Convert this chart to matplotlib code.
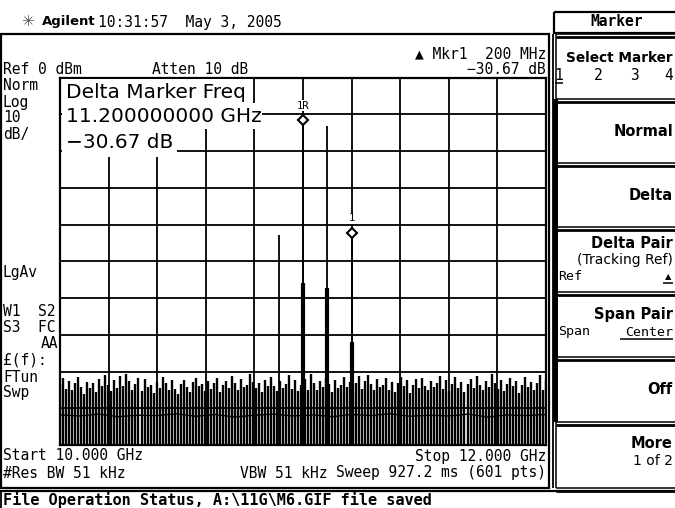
import matplotlib
matplotlib.use("Agg")
import matplotlib.pyplot as plt
from matplotlib.patches import Rectangle
import numpy as np

# analyzer settings
start_ghz = 10.0
stop_ghz = 12.0
ref_dbm = 0.0
db_per_div = 10
n_div = 10

# max-hold trace spurs (GHz, dBm)
sig_freq = [10.9, 11.0, 11.1, 11.2]
sig_peak = [-42.9, -11.7, -13.2, -42.37]
# current sweep at the same spurs
live_freq = [11.0, 11.1, 11.2]
live_peak = [-56.0, -57.3, -72.0]

# noise floor peaks across the sweep
noise_dbm = [
    -83.5, -81.9, -84.8, -82.6, -85.1, -83.0, -81.4, -84.2, -86.0, -82.8,
    -84.5, -83.2, -85.6, -82.1, -84.0, -80.9, -83.7, -85.2, -82.4, -84.6,
    -81.2, -83.9, -80.6, -82.7, -84.9, -83.3, -81.8, -85.4, -82.0, -84.1,
    -83.6, -85.8, -82.9, -84.4, -81.5, -83.1, -85.0, -82.3, -84.7, -86.2,
    -83.4, -82.2, -84.3, -85.5, -82.8, -81.7, -84.0, -83.5, -85.3, -82.6,
    -84.8, -83.0, -81.9, -85.7, -83.8, -82.5, -84.6, -81.3, -83.2, -85.1,
    -82.0, -84.2, -83.7, -80.8, -82.9, -84.5, -83.1, -85.6, -82.4, -84.0,
    -81.6, -83.9, -85.2, -82.7, -84.4, -83.3, -81.0, -84.8, -82.2, -85.4,
    -83.6, -82.1, -84.9, -80.7, -83.0, -85.0, -82.6, -84.1, -81.8, -83.4,
    -85.7, -82.3, -84.6, -83.8, -81.5, -84.2, -82.9, -85.3, -83.1, -81.2,
    -84.7, -82.5, -80.9, -83.5, -85.1, -82.0, -84.3, -83.7, -81.9, -84.9,
    -82.8, -85.5, -83.2, -81.4, -84.0, -82.4, -85.8, -83.6, -82.1, -84.5,
    -81.7, -83.9, -85.0, -82.7, -84.1, -83.0, -81.1, -84.8, -82.3, -85.2,
    -83.4, -81.6, -84.6, -82.9, -85.6, -83.3, -82.0, -84.4, -81.3, -83.8,
    -85.1, -82.6, -84.2, -80.8, -83.1, -84.7, -82.2, -85.4, -83.5, -81.8,
    -84.0, -82.5, -85.9, -83.7, -81.5, -84.3, -82.8, -85.0, -83.2, -81.0,
    -84.9, -82.4,
]
floor_dbm = [
    -91.8, -92.1, -91.6, -92.3, -91.9, -92.0, -91.5, -92.2, -91.7, -92.4,
    -91.9, -91.6, -92.1, -91.8, -92.3, -91.7, -92.0, -91.5, -92.2, -91.9,
    -92.1, -91.6, -92.4, -91.8, -92.0, -91.7,
]

mkr_ref = (11.0, -11.7)
mkr_delta = (11.2, -42.37)
delta_db = -30.67

W, H = 675, 508
MONO = ["DejaVu Sans Mono", "DejaVu Sans"]
SANS = ["DejaVu Sans"]
FS = 10.5

fig = plt.figure(figsize=(W / 100, H / 100), dpi=100)


def px_box(x0, y0, x1, y1):
    return [x0 / W, 1 - y1 / H, (x1 - x0) / W, (y1 - y0) / H]


# graticule
ax = fig.add_axes(px_box(60, 77.5, 546, 445))
ax.set_xlim(start_ghz, stop_ghz)
ax.set_ylim(ref_dbm - db_per_div * n_div, ref_dbm)
ax.set_xticks(np.linspace(start_ghz, stop_ghz, n_div + 1))
ax.set_yticks(np.arange(ref_dbm - db_per_div * n_div, ref_dbm + 1, db_per_div))
ax.grid(True, color="black", lw=1.3)
ax.tick_params(length=0, labelbottom=False, labelleft=False)
for s in ax.spines.values():
    s.set_linewidth(1.6)
ax.set_axisbelow(True)

bottom = ref_dbm - db_per_div * n_div - 2
noise_x = np.linspace(start_ghz, stop_ghz, len(noise_dbm))
ax.vlines(noise_x, bottom, noise_dbm, color="black", lw=1.7)
floor_x = np.linspace(start_ghz, stop_ghz, len(floor_dbm))
ax.plot(floor_x, floor_dbm, color="black", lw=1.0)

ax.vlines(sig_freq, bottom, sig_peak, color="black", lw=1.3)
ax.vlines(live_freq, bottom, live_peak, color="black", lw=3.0)

for (f, a), lab in [(mkr_ref, "1R"), (mkr_delta, "1")]:
    ax.plot([f], [a], marker="D", ms=5.5, mfc="white", mec="black", mew=1.5,
            zorder=6, clip_on=False)
    ax.annotate(lab, (f, a), xytext=(0, 7), textcoords="offset points",
                ha="center", va="bottom", fontsize=7.5, family=MONO,
                bbox=dict(fc="white", ec="none", pad=0.3), zorder=6)

# screen overlay in pixel coordinates
ov = fig.add_axes([0, 0, 1, 1], zorder=5)
ov.set_xlim(0, W)
ov.set_ylim(H, 0)
ov.axis("off")
ov.patch.set_alpha(0)


def line(x0, y0, x1, y1, lw=1.3):
    ov.plot([x0, x1], [y0, y1], color="black", lw=lw, solid_capstyle="butt")


def txt(x, y, s, ha="left", size=FS, fam=MONO, weight="normal"):
    ov.text(x, y, s, ha=ha, va="center", fontsize=size, family=fam,
            fontweight=weight, color="black")


# marker readout panel over the graticule
for x0, y0, x1, y1 in [(61.5, 78.5, 253, 103), (61.5, 103, 262, 129),
                       (61.5, 129, 177, 157)]:
    ov.add_patch(Rectangle((x0, y0), x1 - x0, y1 - y0, fc="white", ec="none"))
txt(66, 92, "Delta Marker Freq", size=14.5, fam=SANS)
txt(66, 117, f"{mkr_delta[0]:.9f} GHz", size=14.5, fam=SANS)
txt(66, 143, f"{delta_db:.2f} dB".replace("-", "\u2212"), size=14.5, fam=SANS)

# header
ov.text(27, 22, "\u2733", ha="center", va="center", fontsize=11,
        family=SANS, color="#555555")
txt(42, 22, "Agilent", size=9.5, fam=SANS, weight="bold")
txt(98, 22, "10:31:57  May 3, 2005")

# main frame
ov.add_patch(Rectangle((1, 34), 548, 454, fc="none", ec="black", lw=1.6))
line(552.5, 34, 552.5, 488)
txt(546, 54, "\u25b2 Mkr1  200 MHz", ha="right")
txt(546, 70, f"{delta_db:.2f} dB".replace("-", "\u2212"), ha="right")
txt(3, 70, "Ref 0 dBm")
txt(152, 70, "Atten 10 dB")

left_col = [(86, "Norm"), (102, "Log"), (118, "10"), (134, "dB/"),
            (273, "LgAv"), (312, "W1  S2"), (328, "S3  FC"),
            (360, "\u00a3(f):"), (377, "FTun"), (393, "Swp")]
for y, s in left_col:
    txt(3, y, s)
txt(58, 344, "AA", ha="right")

txt(3, 456, "Start 10.000 GHz")
txt(546, 456, "Stop 12.000 GHz", ha="right")
txt(3, 473, "#Res BW 51 kHz")
txt(240, 473, "VBW 51 kHz")
txt(546, 473, "Sweep 927.2 ms (601 pts)", ha="right")

# status bar
line(0, 490.5, W, 490.5, lw=1.6)
line(1, 490.5, 1, H)
txt(3, 499.5, "File Operation Status, A:\\11G\\M6.GIF file saved",
    size=11, weight="bold")

# softkey menu
ov.add_patch(Rectangle((554, 12), 125, 20.5, fc="none", ec="black", lw=1.6))
txt(617, 22, "Marker", ha="center", size=10.5, weight="bold")
key_edges = [34, 99, 163, 227, 292, 357, 422, 488]
for y in key_edges:
    line(556, y, W, y, lw=1.1)
    line(556, y + 3, W, y + 3, lw=2.0)
line(556, 34, 556, 488, lw=1.1)
ov.add_patch(Rectangle((552.5, 99), 5, 323, fc="black", ec="none"))

txt(673, 58, "Select Marker", ha="right", size=9.8, fam=SANS, weight="bold")
for x, s in zip([559, 598, 634, 669], ["1", "2", "3", "4"]):
    txt(x, 75, s, ha="center")
line(555, 83, 563, 83, lw=1.1)
txt(673, 131, "Normal", ha="right", size=10.5, fam=SANS, weight="bold")
txt(673, 195, "Delta", ha="right", size=10.5, fam=SANS, weight="bold")
txt(673, 243, "Delta Pair", ha="right", size=10.5, fam=SANS, weight="bold")
txt(673, 260, "(Tracking Ref)", ha="right", size=10, fam=SANS)
txt(558, 277, "Ref", size=9.5)
ov.text(668, 277, "\u25b2", ha="center", va="center", fontsize=6,
        family=SANS, color="black")
line(663, 283, 673, 283, lw=1.1)
txt(673, 315, "Span Pair", ha="right", size=10.5, fam=SANS, weight="bold")
txt(558, 332, "Span", size=9.5)
txt(673, 332, "Center", ha="right", size=9.5)
line(620, 339, 673, 339, lw=1.1)
txt(673, 389, "Off", ha="right", size=10.5, fam=SANS, weight="bold")
txt(673, 443, "More", ha="right", size=10.5, fam=SANS, weight="bold")
txt(673, 461, "1 of 2", ha="right", size=10, fam=SANS)

fig.savefig("out.png", dpi=100)
